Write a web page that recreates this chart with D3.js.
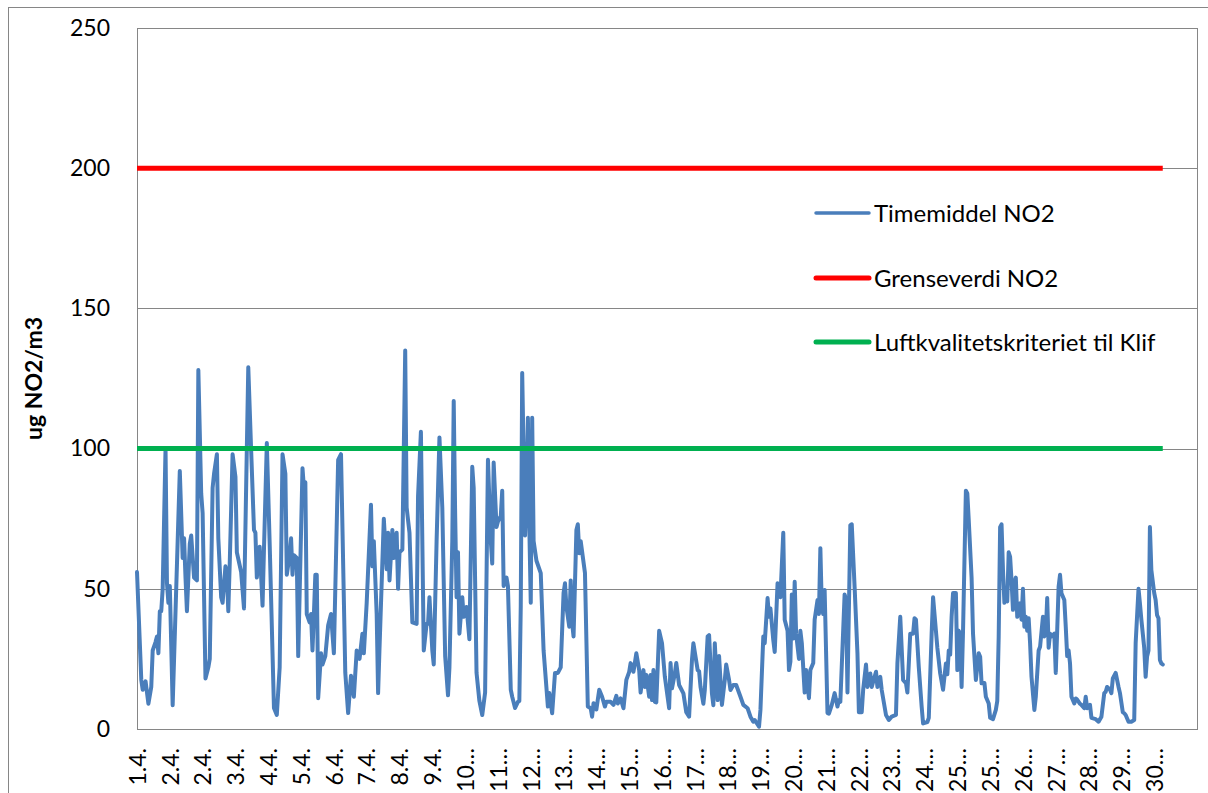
<!DOCTYPE html>
<html>
<head>
<meta charset="utf-8">
<script src="https://cdn.jsdelivr.net/npm/d3@7"></script>
<style>
body { margin: 0; background: #fff; }
svg { display: block; font-family: Lato, Calibri, sans-serif; }
</style>
</head>
<body>
<svg class="figure" width="1208" height="793"></svg>
<script>
// hourly NO2, [hour index from 1.4. 01:00, ug/m3]
var no2Hourly = [
  [0,56],[3,17.5],[4,14],[6,17],[8,9],[10,15],[11,28],[13,31],[14,33],[15,27],[16,42],[17,42],[18,50],[20,100],
  [21,52],[22,45],[23,51],[25,8.5],[30,92],[32,61],[33,68],[34,54],[35,42],[37,66],[38,69],[40,54],[42,53],
  [43,128],[45,84],[46,77],[48,18],[50,22],[51,25],[53,86],[54,91],[56,98],[57,68],[59,47],[60,45],[62,58],
  [63,55],[64,42],[65,59],[67,98],[69,90],[70,63],[73,56],[75,43],[78,129],[80,99.5],[82,71],[83,70],[84,54],
  [86,65],[88,44],[89,64],[91,102],[93,66],[96,7.5],[98,5],[100,22],[102,98],[104,91],[105,55],[107,62],
  [108,68],[109,55],[110,62],[112,61],[113,26],[116,93],[117,86],[118,88],[119,41],[121,38],[122,41],[123,28],
  [124,41],[125,55],[126,55],[127,11],[129,27],[130,23],[132,26],[134,37],[136,41],[138,27],[141,96],[143,98],
  [146,20],[148,5.7],[150,19],[152,11.5],[154,28],[156,25],[158,34],[159,27],[161,45],[164,80],[165,58],
  [166,67],[168,41],[169,12.8],[170,29],[173,75],[175,57],[176,70],[177,53],[179,71],[180,61],[182,70],
  [183,50],[184,63],[186,64],[188,135],[189,79],[191,70],[193,38],[196,37.5],[197,83],[199,106],[201,28],
  [203,37.5],[204,37.5],[205,47],[207,28],[208,23],[210,67],[212,104],[214,79],[216,26],[218,12],[219,22],
  [221,67],[222,117],[223,77],[224,47],[225,63],[226,34],[228,47],[229,40],[231,43.5],[233,32],[235,93.5],
  [236,86],[238,20],[240,10],[242,5],[244,13],[246,96],[248,67],[249,59],[250,95],[252,72],[253,74],[255,76],
  [256,85],[257,51],[259,54],[260,51],[262,14],[263,11.5],[265,7.5],[267,9.7],[268,10],[269,44],[270,127],
  [272,69],[273,84],[274,111],[275,72],[276,45],[277,111],[278,67],[280,60],[283,55.6],[285,28],[288,8],
  [289,12.8],[291,5.6],[293,20],[295,20],[297,22],[299,48.5],[300,52],[301,43.6],[303,36.5],[304,53],
  [305,37.8],[306,33],[308,71],[309,73],[310,62.7],[311,67],[314,55.6],[316,8],[318,7.4],[319,4.4],[320,9.2],
  [322,7],[324,14],[326,11.5],[328,8],[329,9.7],[332,9.7],[334,8.6],[336,11.8],[337,9.1],[339,10.9],[341,7.4],
  [343,17.5],[345,20.4],[346,23.5],[348,20.4],[350,27],[352,21],[353,13],[355,21],[356,15],[357,19.3],
  [359,11.5],[360,19.3],[361,10.3],[362,21],[363,9.7],[364,9.5],[366,35],[368,30.6],[370,18.6],[373,7.4],
  [374,23.5],[375,14.5],[377,19.8],[378,23.5],[380,15.7],[383,12.7],[385,6],[387,4.4],[389,24.6],[390,30.6],
  [393,21],[394,20.6],[395,15],[397,9],[398,13.9],[400,33],[401,33.5],[403,12.7],[404,8.5],[405,30.6],
  [407,10.3],[408,26],[410,8.6],[412,17.5],[413,23],[415,17.5],[416,13.9],[418,15.7],[420,15.7],[423,11.5],
  [425,8.6],[428,7.4],[430,4.4],[432,2.6],[433,3.2],[436,0.8],[437,6.8],[439,33],[440,30.6],[442,46.7],
  [443,40],[444,43],[446,31.7],[447,27.5],[449,52],[451,47],[453,70],[454,39],[456,35],[457,21],[458,24],
  [459,48],[460,32.3],[461,52.5],[462,34],[464,25],[465,35],[466,30.6],[468,13],[469,21],[471,11],[472,21],
  [474,23.5],[475,39],[477,46],[478,41],[479,64.5],[480,43.6],[481,41],[482,49.6],[484,5.7],[485,5.5],
  [487,8.6],[489,12.8],[491,8],[492,10.3],[493,9.7],[496,48],[497,46],[498,13],[500,72.7],[501,73],[503,50.7],
  [505,27],[506,6],[508,6],[509,14],[511,23],[512,15],[514,19.8],[515,15],[518,20.4],[519,15],[521,18.6],
  [522,13.9],[525,5],[527,3.2],[529,4.4],[532,5],[533,23.4],[535,40],[537,17.5],[539,16.3],[540,13],[542,34],
  [544,34],[545,39.5],[546,39],[548,22],[550,8],[551,2],[554,2.5],[555,4],[557,34],[558,47],[560,35],[561,29],
  [563,19.8],[565,14],[567,23.4],[568,19.5],[569,28],[570,26.5],[571,40],[572,48.5],[574,48.5],[575,21],
  [576,35],[577,34],[578,15],[579,35],[581,85],[582,84],[583,74.5],[585,54],[586,34],[587,25.8],[588,17.5],
  [590,27],[591,25.8],[592,16.3],[594,16.4],[595,11.5],[597,9.1],[598,4],[600,3.5],[602,6.8],[603,10],
  [604,33],[605,72],[606,73],[607,56.7],[608,45],[609,49.6],[610,45.5],[611,63],[612,61.4],[613,53],
  [614,42.5],[615,52],[616,54],[617,40],[619,44.8],[620,39],[621,50],[622,36.5],[623,40],[624,35],[625,39.5],
  [626,30.6],[627,18.6],[629,6.8],[630,11.5],[632,28],[633,29.3],[635,40],[636,33],[637,34],[638,46.7],
  [639,29],[640,34],[641,33],[643,34],[644,20],[645,35],[646,50.7],[647,55],[648,48.4],[650,46],[651,36.5],
  [652,26],[653,28],[654,23.4],[655,11.5],[657,9.1],[658,10.9],[659,10.5],[661,9],[662,8.6],[664,7.4],
  [665,11.5],[666,7.4],[668,8.6],[669,4],[672,3.5],[674,2.6],[676,4.4],[678,12.8],[679,13.3],[680,15],
  [682,14],[683,12.8],[684,18],[685,19],[686,20],[688,15],[689,12.8],[691,6],[692,5.6],[693,5],[695,2.6],
  [697,2.6],[699,3.2],[700,30.6],[702,50],[703,44.8],[704,39],[706,29],[707,18.6],[708,25.8],[709,28],
  [710,72],[711,56.7],[713,48.5],[714,46],[715,40.6],[716,39.5],[717,24.6],[718,23.4],[719,23]
];

var grenseverdi = 200;
var klifKriterium = 100;
var yTicks = [0, 50, 100, 150, 200, 250];
var xTickLabels = ["1.4.", "2.4.", "2.4.", "3.4.", "4.4.", "5.4.", "6.4.", "7.4.", "8.4.", "9.4.",
  "10\u2026", "11\u2026", "12\u2026", "13\u2026", "14\u2026", "15\u2026", "16\u2026", "17\u2026", "18\u2026",
  "19\u2026", "20\u2026", "21\u2026", "22\u2026", "23\u2026", "24\u2026", "25\u2026", "25\u2026", "26\u2026",
  "27\u2026", "28\u2026", "29\u2026", "30\u2026"];
var labelEvery = 23;      // one label per 23 hours
var nCategories = 744;    // axis has room for 31 days
var seriesNames = ["Timemiddel NO2", "Grenseverdi NO2", "Luftkvalitetskriteriet til Klif"];
var seriesColors = ["#4a7ebb", "#ff0000", "#00b050"];

var svg = d3.select("svg.figure");
var plotLeft = 137, plotRight = 1197, plotTop = 28, plotBottom = 729;
var axisGray = "#868686";
var fontFamily = "Lato, Calibri, sans-serif";

var x = d3.scaleLinear().domain([0, nCategories - 1]).range([plotLeft, plotRight]);
var y = d3.scaleLinear().domain([0, 250]).range([plotBottom, plotTop]);

// chart area border
svg.append("rect")
  .attr("x", 8.5).attr("y", 7.5)
  .attr("width", 1400).attr("height", 1000)
  .attr("fill", "none").attr("stroke", axisGray);

// gridlines
var grid = svg.append("g")
  .attr("transform", "translate(" + plotLeft + ",0)")
  .call(d3.axisLeft(y).tickValues(yTicks).tickSize(-(plotRight - plotLeft)).tickFormat(""));
grid.select(".domain").remove();
grid.selectAll("line").attr("stroke", axisGray).attr("shape-rendering", "crispEdges");

// plot border right side
svg.append("line")
  .attr("x1", plotRight + 0.5).attr("x2", plotRight + 0.5)
  .attr("y1", plotTop).attr("y2", plotBottom)
  .attr("stroke", axisGray);

// y axis
var yAxis = svg.append("g")
  .attr("transform", "translate(" + plotLeft + ",0)")
  .call(d3.axisLeft(y).tickValues(yTicks).tickSize(0).tickPadding(27));
yAxis.attr("font-family", fontFamily);
yAxis.select(".domain").attr("stroke", axisGray).attr("shape-rendering", "crispEdges");
yAxis.selectAll("text")
  .attr("fill", "#000")
  .style("font-size", "23px");

// x axis
var labelHours = xTickLabels.map(function(d, i) { return i * labelEvery; });
var xAxis = svg.append("g")
  .attr("transform", "translate(0," + plotBottom + ")")
  .call(d3.axisBottom(x).tickValues(labelHours).tickSize(0)
    .tickFormat(function(d, i) { return xTickLabels[i]; }));
xAxis.attr("font-family", fontFamily);
xAxis.select(".domain").attr("stroke", axisGray).attr("shape-rendering", "crispEdges");
xAxis.selectAll("text")
  .attr("y", 0)
  .attr("x", -19)
  .attr("dy", "0.36em")
  .attr("transform", "rotate(-90)")
  .attr("fill", "#000")
  .style("text-anchor", "end")
  .style("font-size", "23px");

// y title
svg.append("text")
  .attr("transform", "translate(42," + ((plotTop + plotBottom) / 2) + ") rotate(-90)")
  .attr("text-anchor", "middle")
  .style("font-size", "23px")
  .style("font-weight", "bold")
  .text("ug NO2/m3");

// series
var line = d3.line()
  .x(function(d) { return x(d[0]); })
  .y(function(d) { return y(d[1]); });

svg.append("path")
  .datum(no2Hourly)
  .attr("d", line)
  .attr("fill", "none")
  .attr("stroke", seriesColors[0])
  .attr("stroke-width", 4)
  .attr("stroke-linejoin", "round")
  .attr("stroke-linecap", "round");

var hourExtent = d3.extent(no2Hourly, function(d) { return d[0]; });

[grenseverdi, klifKriterium].forEach(function(v, i) {
  svg.append("path")
    .datum(hourExtent.map(function(h) { return [h, v]; }))
    .attr("d", line)
    .attr("fill", "none")
    .attr("stroke", seriesColors[i + 1])
    .attr("stroke-width", 5);
});

// legend
var legendY = [213, 278, 342];
var legend = svg.append("g");
seriesNames.forEach(function(name, i) {
  legend.append("line")
    .attr("x1", 816).attr("x2", 869)
    .attr("y1", legendY[i]).attr("y2", legendY[i])
    .attr("stroke", seriesColors[i])
    .attr("stroke-width", i === 0 ? 3.5 : 5)
    .attr("stroke-linecap", "round");
  legend.append("text")
    .attr("x", 874)
    .attr("y", legendY[i])
    .attr("dy", "0.36em")
    .style("font-size", "24px")
    .text(name);
});
</script>
</body>
</html>
